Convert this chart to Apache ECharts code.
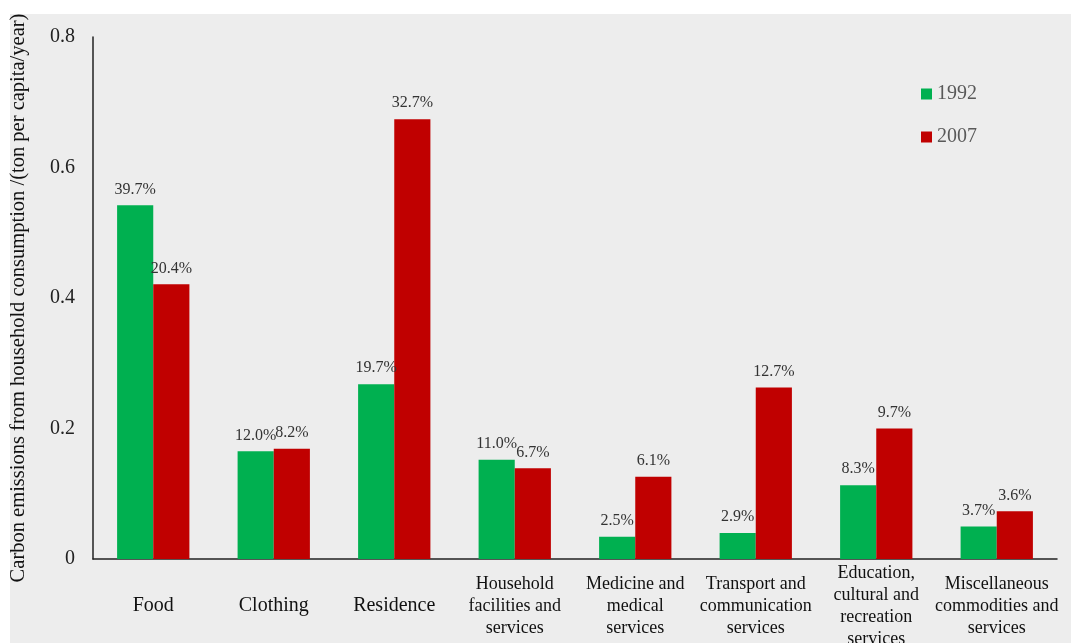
<!DOCTYPE html>
<html>
<head>
<meta charset="utf-8">
<script src="https://cdn.jsdelivr.net/npm/echarts@6/dist/echarts.min.js"></script>
<style>
  html, body { margin: 0; padding: 0; background: #fff; }
  #main { width: 1071px; height: 643px; }
</style>
</head>
<body>
<div id="main"></div>
<script>
// categories and values
var categories = [
  'Food',
  'Clothing',
  'Residence',
  'Household\nfacilities and\nservices',
  'Medicine and\nmedical\nservices',
  'Transport and\ncommunication\nservices',
  'Education,\ncultural and\nrecreation\nservices',
  'Miscellaneous\ncommodities and\nservices'
];
var values1992 = [0.542, 0.165, 0.268, 0.152, 0.034, 0.040, 0.113, 0.050];
var values2007 = [0.421, 0.169, 0.674, 0.139, 0.126, 0.263, 0.200, 0.073];
var share1992 = ['39.7%', '12.0%', '19.7%', '11.0%', '2.5%', '2.9%', '8.3%', '3.7%'];
var share2007 = ['20.4%', '8.2%', '32.7%', '6.7%', '6.1%', '12.7%', '9.7%', '3.6%'];
var yTicks = [0, 0.2, 0.4, 0.6, 0.8];

var serif = '"Liberation Serif", "Times New Roman", serif';

var chart = echarts.init(document.getElementById('main'));

var catData = categories.map(function(c) {
  // one-word labels are drawn a bit larger in the original
  var big = c.indexOf('\n') < 0;
  return {
    value: c,
    textStyle: {
      fontFamily: serif,
      fontSize: big ? 20 : 18,
      lineHeight: 22,
      color: '#111',
      verticalAlign: 'middle'
    }
  };
});

function labelFor(arr) {
  return {
    show: true,
    position: 'top',
    distance: 8,
    fontFamily: serif,
    fontSize: 16,
    color: '#333',
    formatter: function(p) {
      return arr[p.dataIndex];
    }
  };
}

chart.setOption({
  backgroundColor: '#fff',
  animation: false,
  graphic: [
    {
      type: 'rect',
      left: 10,
      top: 14,
      z: -10,
      silent: true,
      shape: { width: 1061, height: 629 },
      style: { fill: '#ededed' }
    }
  ],
  legend: {
    orient: 'vertical',
    left: 921,
    top: 84,
    padding: 0,
    itemWidth: 11,
    itemHeight: 11,
    itemGap: 23,
    icon: 'rect',
    textStyle: { fontFamily: serif, fontSize: 20, color: '#595959' },
    data: ['1992', '2007']
  },
  grid: {
    left: 93,
    top: 37,
    right: 14,
    bottom: 84,
    containLabel: false,
    outerBoundsMode: 'none'
  },
  xAxis: {
    type: 'category',
    data: catData,
    axisLine: { lineStyle: { color: '#222', width: 1.5 } },
    axisTick: { show: false },
    axisLabel: {
      interval: 0,
      margin: 47,
      verticalAlign: 'middle',
      fontFamily: serif,
      fontSize: 18,
      lineHeight: 22,
      color: '#111'
    }
  },
  yAxis: {
    type: 'value',
    min: yTicks[0],
    max: yTicks[yTicks.length - 1],
    interval: 0.2,
    name: 'Carbon emissions from household consumption /(ton per capita/year)',
    nameLocation: 'middle',
    nameGap: 64,
    nameTextStyle: { fontFamily: serif, fontSize: 20.5, color: '#111' },
    axisLine: { show: true, lineStyle: { color: '#222', width: 1.5 } },
    axisTick: { show: false },
    splitLine: { show: false },
    axisLabel: {
      margin: 18,
      fontFamily: serif,
      fontSize: 20,
      color: '#222',
      formatter: function(v) {
        return v === 0 ? '0' : v.toFixed(1);
      }
    }
  },
  series: [
    {
      name: '1992',
      type: 'bar',
      barGap: '0%',
      barCategoryGap: '40%',
      itemStyle: { color: '#00b050' },
      label: labelFor(share1992),
      data: values1992
    },
    {
      name: '2007',
      type: 'bar',
      itemStyle: { color: '#c00000' },
      label: labelFor(share2007),
      data: values2007
    }
  ]
});
</script>
</body>
</html>
